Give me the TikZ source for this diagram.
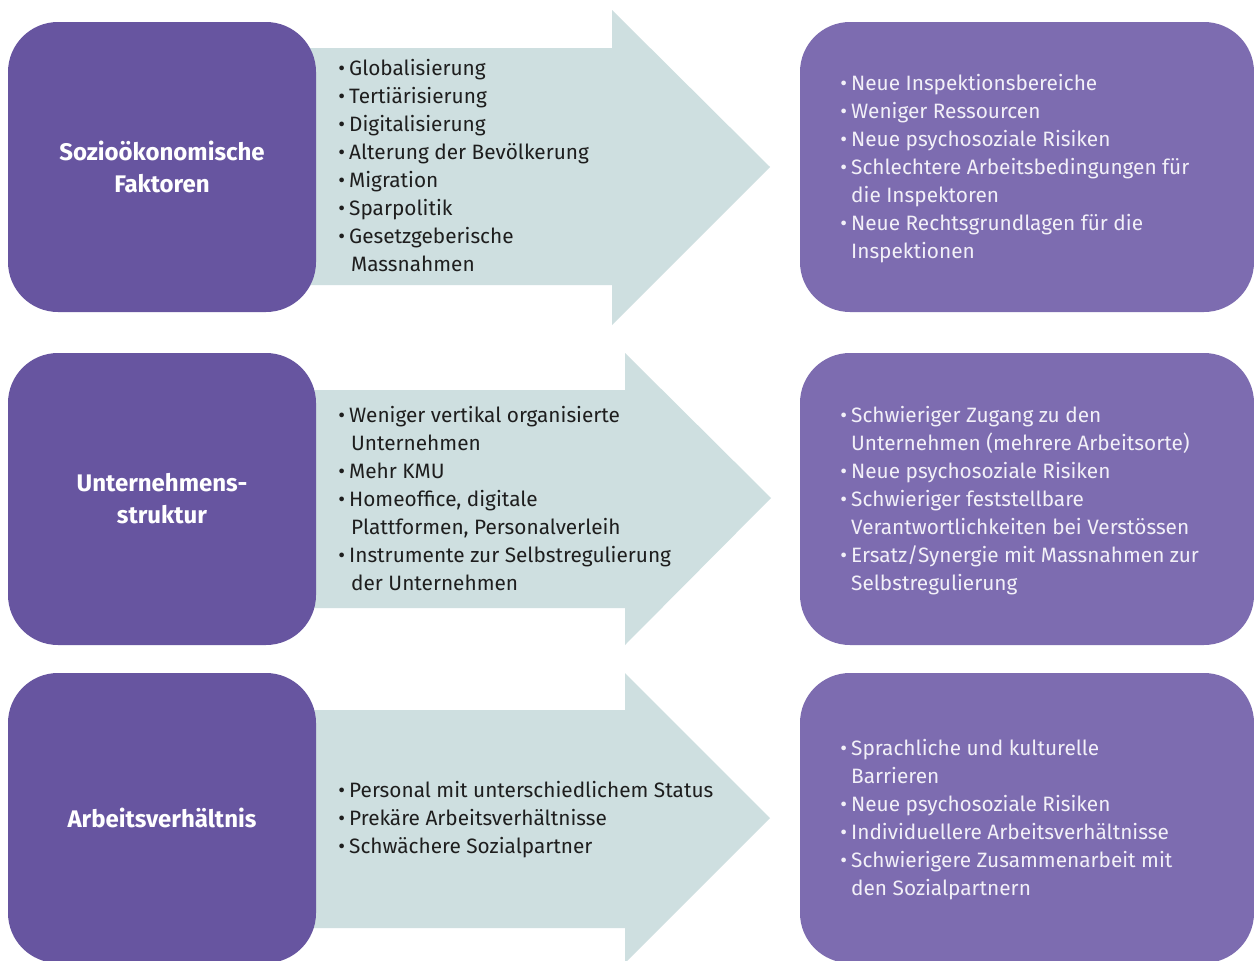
\documentclass[tikz,border=0pt]{standalone}
\usepackage{fontspec}
\setmainfont{Fira Sans}
\definecolor{leftpurple}{HTML}{6755A0}
\definecolor{rightpurple}{HTML}{7D6CB0}
\definecolor{arrowgrey}{HTML}{CEDFE0}
\definecolor{darktext}{HTML}{1E1E1E}
\definecolor{lighttext}{HTML}{F2F0F8}
% bullet hanging to the left of the item text
\newcommand\bul{\llap{•\hspace{4pt}}}
\tikzset{
  leftbox/.style={fill=leftpurple, rounded corners=50pt, minimum width=308pt,
    text=white, align=center, font=\fontsize{24}{32}\selectfont\bfseries},
  rightbox/.style={fill=rightpurple, rounded corners=50pt, minimum width=454pt},
  blockarrow/.style={fill=arrowgrey},
  arrowlist/.style={anchor=north west, inner sep=0pt, align=left, text=darktext,
    font=\fontsize{20.8}{28}\selectfont},
  rightlist/.style={anchor=north west, inner sep=0pt, align=left, text=lighttext,
    font=\fontsize{20.8}{28}\selectfont},
}
\begin{document}
\begin{tikzpicture}[x=1pt,y=-1pt]
\clip (0,0) rectangle (1254,961);
\fill[white] (0,0) rectangle (1254,961);

% block arrows (drawn first, so the left boxes overlap their tails)
\fill[blockarrow] (300,48) -- (612,48) -- (612,10) -- (770,167) -- (612,325)
  -- (612,285) -- (300,285) -- cycle;
\fill[blockarrow] (300,390) -- (625,390) -- (625,353) -- (771,498) -- (625,645)
  -- (625,608) -- (300,608) -- cycle;
\fill[blockarrow] (300,710) -- (625,710) -- (625,673) -- (770,818) -- (625,963)
  -- (625,928) -- (300,928) -- cycle;

% left category boxes
\node[leftbox, minimum height=290pt] (cat1) at (162,167) {Sozioökonomische\\Faktoren};
\node[leftbox, minimum height=292pt] (cat2) at (162,499) {Unternehmens-\\struktur};
\node[leftbox, minimum height=290pt] (cat3) at (162,818) {Arbeitsverhältnis};

% right consequence boxes
\node[rightbox, minimum height=290pt] (res1) at (1027,167) {};
\node[rightbox, minimum height=292pt] (res2) at (1027,499) {};
\node[rightbox, minimum height=290pt] (res3) at (1027,818) {};

% lists inside the arrows
\node[arrowlist] (fac1) at (349,56) {\strut\bul Globalisierung\\
  \bul Tertiärisierung\\
  \bul Digitalisierung\\
  \bul Alterung der Bevölkerung\\
  \bul Migration\\
  \bul Sparpolitik\\
  \bul Gesetzgeberische\\
  \hspace{2pt}Massnahmen};
\node[arrowlist] (fac2) at (349,403) {\strut\bul Weniger vertikal organisierte\\
  \hspace{2pt}Unternehmen\\
  \bul Mehr KMU\\
  \bul Homeoffice, digitale\\
  \hspace{2pt}Plattformen, Personalverleih\\
  \bul Instrumente zur Selbstregulierung\\
  \hspace{2pt}der Unternehmen};
\node[arrowlist] (fac3) at (349,778) {\strut\bul Personal mit unterschiedlichem Status\\
  \bul Prekäre Arbeitsverhältnisse\\
  \bul Schwächere Sozialpartner};

% lists inside the right boxes
\node[rightlist] (eff1) at (851,71) {\strut\bul Neue Inspektionsbereiche\\
  \bul Weniger Ressourcen\\
  \bul Neue psychosoziale Risiken\\
  \bul Schlechtere Arbeitsbedingungen für\\
  die Inspektoren\\
  \bul Neue Rechtsgrundlagen für die\\
  Inspektionen};
\node[rightlist] (eff2) at (851,403) {\strut\bul Schwieriger Zugang zu den\\
  Unternehmen (mehrere Arbeitsorte)\\
  \bul Neue psychosoziale Risiken\\
  \bul Schwieriger feststellbare\\
  Verantwortlichkeiten bei Verstössen\\
  \bul Ersatz/Synergie mit Massnahmen zur\\
  Selbstregulierung};
\node[rightlist] (eff3) at (851,736) {\strut\bul Sprachliche und kulturelle\\
  Barrieren\\
  \bul Neue psychosoziale Risiken\\
  \bul Individuellere Arbeitsverhältnisse\\
  \bul Schwierigere Zusammenarbeit mit\\
  den Sozialpartnern};
\end{tikzpicture}
\end{document}
